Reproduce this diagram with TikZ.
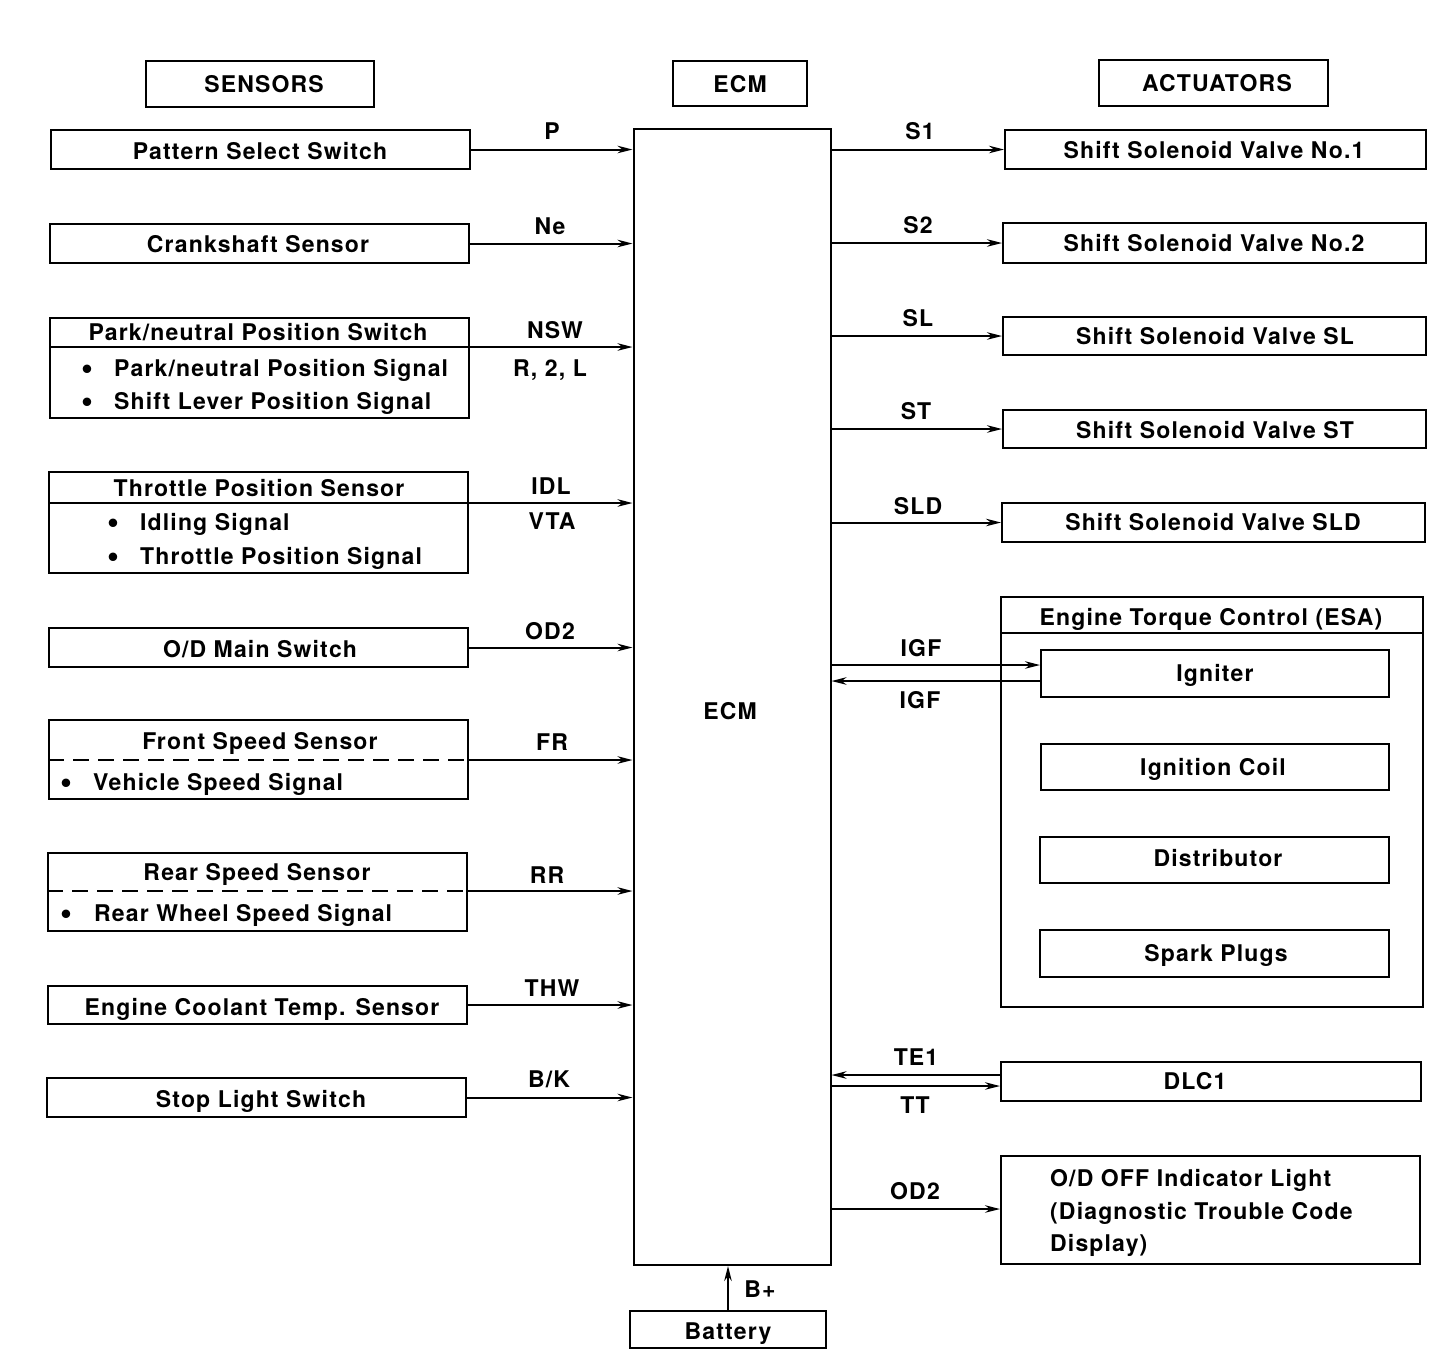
\documentclass[tikz,border=0pt]{standalone}
\usepackage{fontspec}
\setmainfont{TeX Gyre Heros}[LetterSpace=5]
\usetikzlibrary{arrows.meta}
\begin{document}
\begin{tikzpicture}[x=1pt,y=-1pt,
  box/.style={draw,line width=2pt,rectangle,inner sep=0pt},
  txt/.style={anchor=base,inner sep=0pt,font=\fontsize{23}{28}\selectfont\bfseries},
  ltxt/.style={txt,anchor=base west},
  bul/.style={anchor=center,inner sep=0pt,font=\fontsize{34}{34}\selectfont\bfseries},
  arr/.style={line width=2pt,-{Stealth[length=15pt,width=7.5pt]}},
  ln/.style={line width=2pt},
  dsh/.style={line width=2pt,dash pattern=on 16pt off 9pt}]
\useasboundingbox (0,0) rectangle (1456,1350);
% headers
\node[box,minimum width=228,minimum height=46] (hdrS) at (260,84) {};
\node[box,minimum width=134,minimum height=45] (hdrE) at (740,83.5) {};
\node[box,minimum width=229,minimum height=46] (hdrA) at (1213.5,83) {};
\node[txt] (tS) at (264,92) {SENSORS};
\node[txt] (tE) at (740,92) {ECM};
\node[txt] (tA) at (1217,91) {ACTUATORS};
% ECM
\node[box,minimum width=197,minimum height=1136] (ecm) at (732,697) {};
\node[txt] (tecm) at (730,719) {ECM};
% sensors
\node[box,minimum width=419,minimum height=39] (pss) at (260.5,149.5) {};
\node[txt] at (260,159) {Pattern Select Switch};
\node[box,minimum width=419,minimum height=39] (crk) at (259.5,243.5) {};
\node[txt] at (258,252) {Crankshaft Sensor};
\node[box,minimum width=419,minimum height=100] (pn) at (259.5,368) {};
\coordinate (pnrow) at (0,347);
\node[txt] at (258,340) {Park/neutral Position Switch};
\node[bul] at (87,372) {•};
\node[ltxt] at (114,376) {Park/neutral Position Signal};
\node[bul] at (87,405) {•};
\node[ltxt] at (114,409) {Shift Lever Position Signal};
\node[box,minimum width=419,minimum height=101] (tps) at (258.5,522.5) {};
\coordinate (tpsrow) at (0,503);
\node[txt] at (259,496) {Throttle Position Sensor};
\node[bul] at (113,526) {•};
\node[ltxt] at (140,530) {Idling Signal};
\node[bul] at (113,560) {•};
\node[ltxt] at (140,564) {Throttle Position Signal};
\node[box,minimum width=419,minimum height=39] (odm) at (258.5,647.5) {};
\node[txt] at (260,657) {O/D Main Switch};
\node[box,minimum width=419,minimum height=79] (fss) at (258.5,759.5) {};
\coordinate (fssrow) at (0,760);
\node[txt] at (260,749) {Front Speed Sensor};
\node[bul] at (66,786) {•};
\node[ltxt] at (93,790) {Vehicle Speed Signal};
\node[box,minimum width=419,minimum height=78] (rss) at (257.5,892) {};
\coordinate (rssrow) at (0,891);
\node[txt] at (257,880) {Rear Speed Sensor};
\node[bul] at (66,917) {•};
\node[ltxt] at (94,921) {Rear Wheel Speed Signal};
\node[box,minimum width=419,minimum height=38] (ect) at (257.5,1005) {};
\node[txt] at (262,1015) {Engine Coolant Temp. Sensor};
\node[box,minimum width=419,minimum height=39] (sls) at (256.5,1097.5) {};
\node[txt] at (261,1107) {Stop Light Switch};
% sensor dividers
\draw[ln] (pn.west |- pnrow) -- (pn.east |- pnrow);
\draw[ln] (tps.west |- tpsrow) -- (tps.east |- tpsrow);
\draw[dsh] (fss.west |- fssrow) -- (fss.east |- fssrow);
\draw[dsh] (rss.west |- rssrow) -- (rss.east |- rssrow);
% sensor arrows
\draw[arr] (pss.east) -- (ecm.west |- pss.east);
\draw[arr] (crk.east) -- (ecm.west |- crk.east);
\draw[arr] (pn.east |- pnrow) -- (ecm.west |- pnrow);
\draw[arr] (tps.east |- tpsrow) -- (ecm.west |- tpsrow);
\draw[arr] (odm.east) -- (ecm.west |- odm.east);
\draw[arr] (fss.east |- fssrow) -- (ecm.west |- fssrow);
\draw[arr] (rss.east |- rssrow) -- (ecm.west |- rssrow);
\draw[arr] (ect.east) -- (ecm.west |- ect.east);
\draw[arr] (sls.east) -- (ecm.west |- sls.east);
% sensor labels
\node[txt] at (552,139) {P};
\node[txt] at (550,234) {Ne};
\node[txt] at (555,338) {NSW};
\node[txt] at (550,376) {R, 2, L};
\node[txt] at (551,494) {IDL};
\node[txt] at (552,529) {VTA};
\node[txt] at (550,639) {OD2};
\node[txt] at (552,750) {FR};
\node[txt] at (547,883) {RR};
\node[txt] at (552,996) {THW};
\node[txt] at (549,1087) {B/K};
% actuators
\node[box,minimum width=421,minimum height=39] (a1) at (1215.5,149.5) {};
\node[txt] at (1214,158) {Shift Solenoid Valve No.1};
\node[box,minimum width=423,minimum height=40] (a2) at (1214.5,243) {};
\node[txt] at (1214,251) {Shift Solenoid Valve No.2};
\node[box,minimum width=423,minimum height=38] (a3) at (1214.5,336) {};
\node[txt] at (1215,344) {Shift Solenoid Valve SL};
\node[box,minimum width=423,minimum height=38] (a4) at (1214.5,429) {};
\node[txt] at (1215,438) {Shift Solenoid Valve ST};
\node[box,minimum width=423,minimum height=39] (a5) at (1213.5,522.5) {};
\node[txt] at (1213,530) {Shift Solenoid Valve SLD};
\draw[arr] (ecm.east |- a1.west) -- (a1.west);
\draw[arr] (ecm.east |- a2.west) -- (a2.west);
\draw[arr] (ecm.east |- a3.west) -- (a3.west);
\draw[arr] (ecm.east |- a4.west) -- (a4.west);
\draw[arr] (ecm.east |- a5.west) -- (a5.west);
\node[txt] at (920,139) {S1};
\node[txt] at (918,233) {S2};
\node[txt] at (918,326) {SL};
\node[txt] at (916,419) {ST};
\node[txt] at (918,514) {SLD};
% ESA
\node[box,minimum width=422,minimum height=410] (esa) at (1212,802) {};
\coordinate (esarow) at (0,633);
\draw[ln] (esa.west |- esarow) -- (esa.east |- esarow);
\node[txt] at (1211,625) {Engine Torque Control (ESA)};
\node[box,minimum width=348,minimum height=47] (ign) at (1215,673.5) {};
\node[txt] at (1215,681) {Igniter};
\node[box,minimum width=348,minimum height=46] (coil) at (1215,767) {};
\node[txt] at (1213,775) {Ignition Coil};
\node[box,minimum width=349,minimum height=46] (dist) at (1214.5,860) {};
\node[txt] at (1218,866) {Distributor};
\node[box,minimum width=349,minimum height=47] (spark) at (1214.5,953.5) {};
\node[txt] at (1216,961) {Spark Plugs};
\coordinate (igfa) at (0,665);
\coordinate (igfb) at (0,681);
\draw[arr] (ecm.east |- igfa) -- (ign.west |- igfa);
\draw[arr] (ign.west |- igfb) -- (ecm.east |- igfb);
\node[txt] at (921,656) {IGF};
\node[txt] at (920,708) {IGF};
% DLC1
\node[box,minimum width=420,minimum height=39] (dlc) at (1211,1081.5) {};
\node[txt] at (1195,1089) {DLC1};
\coordinate (te1) at (0,1075);
\coordinate (tt) at (0,1086);
\draw[arr] (dlc.west |- te1) -- (ecm.east |- te1);
\draw[arr] (ecm.east |- tt) -- (dlc.west |- tt);
\node[txt] at (916,1065) {TE1};
\node[txt] at (915,1113) {TT};
% O/D OFF
\node[box,minimum width=419,minimum height=108] (odl) at (1210.5,1210) {};
\node[ltxt] at (1050,1186) {O/D OFF Indicator Light};
\node[ltxt] at (1050,1219) {(Diagnostic Trouble Code};
\node[ltxt] at (1050,1251) {Display)};
\coordinate (odrow) at (0,1209);
\draw[arr] (ecm.east |- odrow) -- (odl.west |- odrow);
\node[txt] at (915,1199) {OD2};
% Battery
\node[box,minimum width=196,minimum height=37] (bat) at (728,1329.5) {};
\node[txt] at (728,1339) {Battery};
\draw[arr] (bat.north) -- (ecm.south -| bat.north);
\node[txt] at (760,1297) {B+};
\end{tikzpicture}
\end{document}
